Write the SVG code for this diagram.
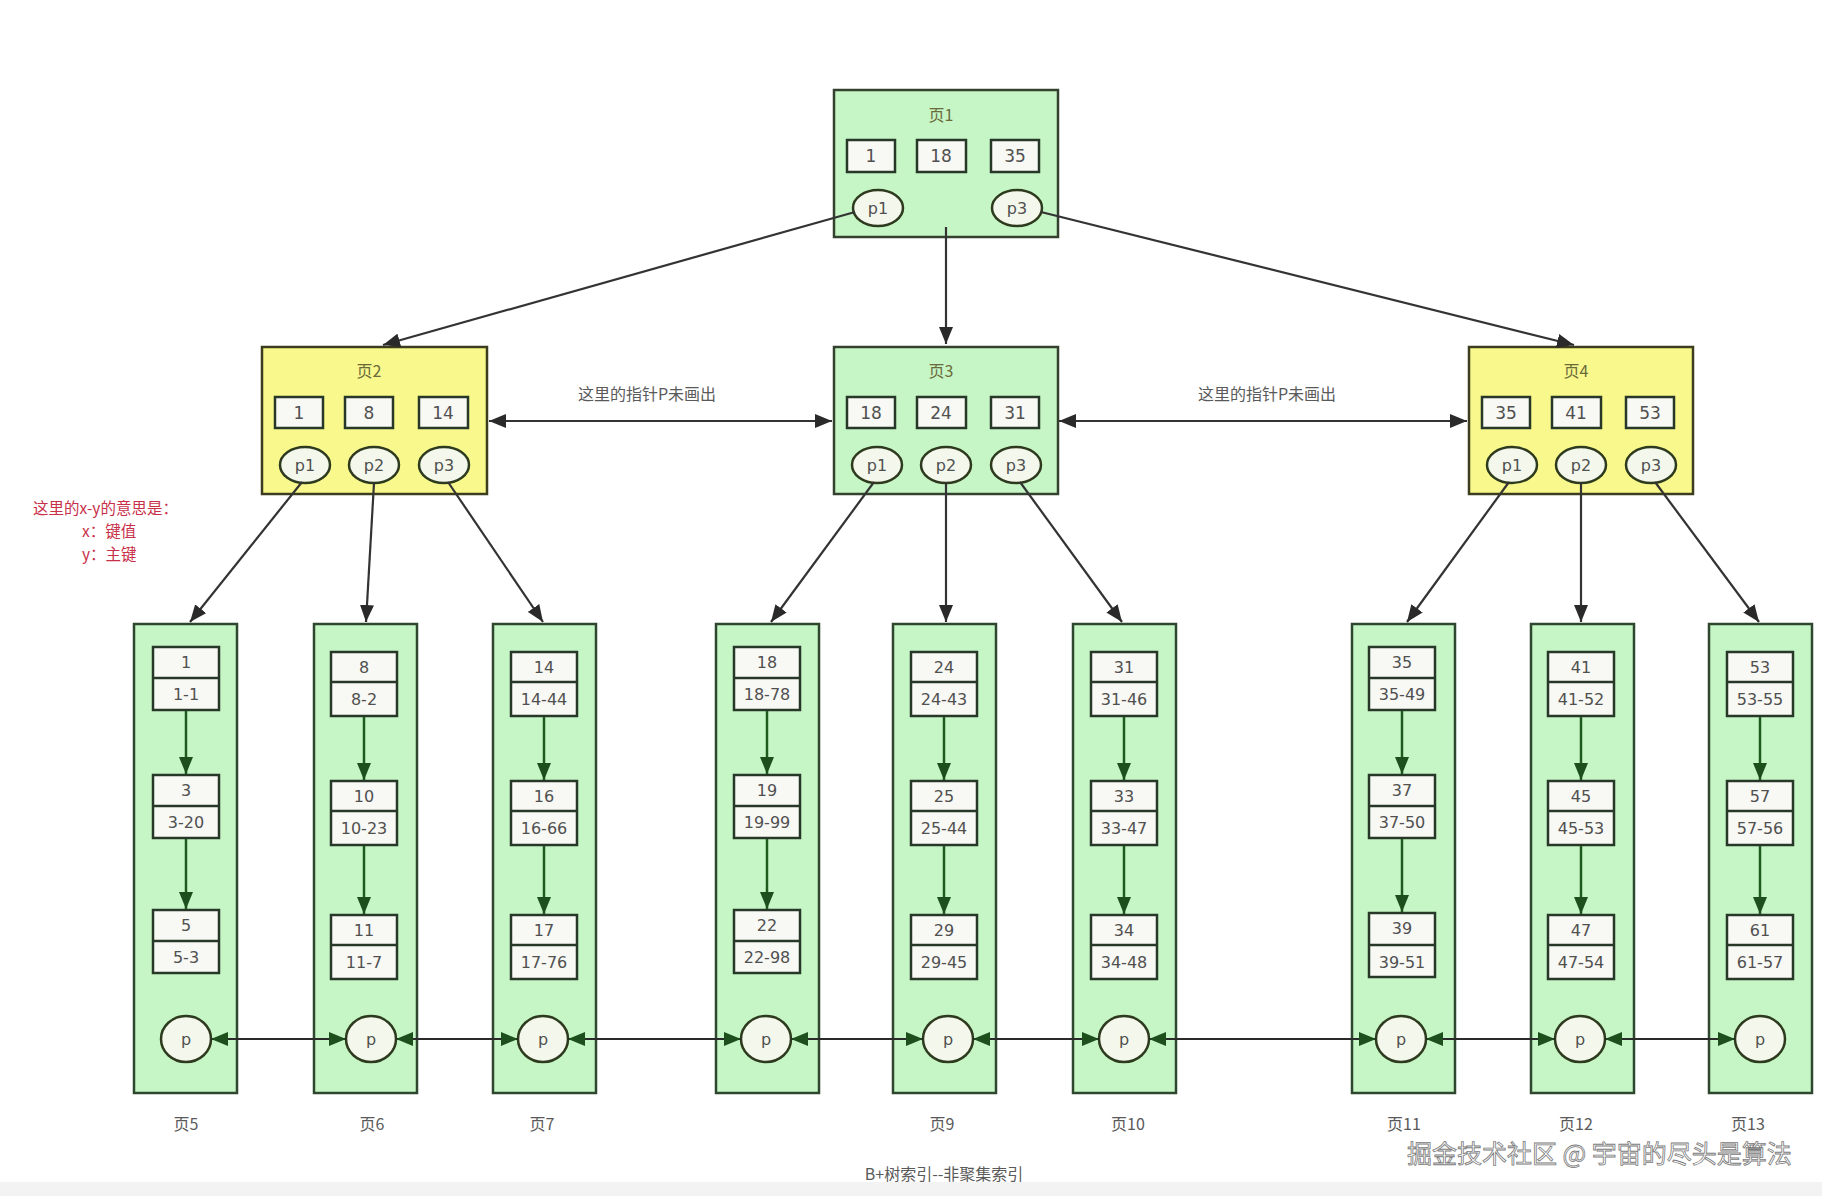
<svg xmlns="http://www.w3.org/2000/svg" width="1822" height="1196" viewBox="0 0 1822 1196">
<style>
.leaf{fill:#c6f6c6;stroke:#2f472f;stroke-width:2.5}
.gpage{fill:#c6f6c6;stroke:#34412f;stroke-width:2.5}
.ypage{fill:#f8f88c;stroke:#3c3c1e;stroke-width:2.5}
.kbox{fill:#f8f8f4;stroke:#283828;stroke-width:2.5}
.div{stroke:#283828;stroke-width:2.5}
.ell{fill:#f4f8ec;stroke:#2e3a1e;stroke-width:2.5}
.t{font-family:"DejaVu Sans","Noto Sans",sans-serif;font-size:16px;fill:#505050;text-anchor:middle;dominant-baseline:central}
.k{font-size:17px}
.cj{font-family:"Noto Sans CJK SC","DejaVu Sans",sans-serif;font-size:16px;fill:#5a5a5a;text-anchor:middle;dominant-baseline:central}
.ttl{fill:#6a6a3a}
.note{font-family:"Noto Sans CJK SC","DejaVu Sans",sans-serif;font-size:15.5px;fill:#c8304a;dominant-baseline:central}
.ga{stroke:#1f5a1f;stroke-width:2.5;fill:none;marker-end:url(#gh)}
.ha{stroke:#2a2a2a;stroke-width:2.2;fill:none;marker-start:url(#gh);marker-end:url(#gh)}
.ba{stroke:#333;stroke-width:2.2;fill:none;marker-end:url(#bh)}
.bd{stroke:#333;stroke-width:2.2;fill:none;marker-start:url(#bh);marker-end:url(#bh)}
.wm{font-family:"Noto Sans CJK SC",sans-serif;font-size:25px;fill:#ffffff;stroke:#7a7a7a;stroke-width:0.8;dominant-baseline:central}
</style>
<defs>
<marker id="gh" markerUnits="userSpaceOnUse" markerWidth="18" markerHeight="14" refX="17" refY="7" orient="auto-start-reverse"><path d="M0,0 L17,7 L0,14 z" fill="#1c4f1c"/></marker>
<marker id="bh" markerUnits="userSpaceOnUse" markerWidth="18" markerHeight="14" refX="17" refY="7" orient="auto-start-reverse"><path d="M0,0 L17,7 L0,14 z" fill="#2a2a2a"/></marker>
</defs>
<rect x="0" y="0" width="1822" height="1196" fill="#ffffff"/>
<rect x="0" y="1182" width="1822" height="14" fill="#f3f3f3"/>

<g id="page1">
<rect class="gpage" x="834" y="90" width="224" height="147"/>
<text class="cj ttl" x="941" y="114">页1</text>
<rect class="kbox" x="847" y="140" width="48" height="32"/><text class="t k" x="871" y="156">1</text>
<rect class="kbox" x="917" y="140" width="49" height="32"/><text class="t k" x="941" y="156">18</text>
<rect class="kbox" x="991" y="140" width="48" height="32"/><text class="t k" x="1015" y="156">35</text>
<ellipse class="ell" cx="878" cy="208" rx="25" ry="18"/><text class="t" x="878" y="208">p1</text>
<ellipse class="ell" cx="1017" cy="208" rx="25" ry="18"/><text class="t" x="1017" y="208">p3</text>
</g>

<g id="page2">
<rect class="ypage" x="262" y="347" width="225" height="147"/>
<text class="cj ttl" x="369" y="370">页2</text>
<rect class="kbox" x="275" y="397" width="48" height="31"/><text class="t k" x="299" y="413">1</text>
<rect class="kbox" x="345" y="397" width="48" height="31"/><text class="t k" x="369" y="413">8</text>
<rect class="kbox" x="419" y="397" width="49" height="31"/><text class="t k" x="443" y="413">14</text>
<ellipse class="ell" cx="305" cy="465" rx="25" ry="18"/><text class="t" x="305" y="465">p1</text>
<ellipse class="ell" cx="374" cy="465" rx="25" ry="18"/><text class="t" x="374" y="465">p2</text>
<ellipse class="ell" cx="444" cy="465" rx="25" ry="18"/><text class="t" x="444" y="465">p3</text>
</g>

<g id="page3">
<rect class="gpage" x="834" y="347" width="224" height="147"/>
<text class="cj ttl" x="941" y="370">页3</text>
<rect class="kbox" x="847" y="397" width="48" height="31"/><text class="t k" x="871" y="413">18</text>
<rect class="kbox" x="917" y="397" width="49" height="31"/><text class="t k" x="941" y="413">24</text>
<rect class="kbox" x="991" y="397" width="48" height="31"/><text class="t k" x="1015" y="413">31</text>
<ellipse class="ell" cx="877" cy="465" rx="25" ry="18"/><text class="t" x="877" y="465">p1</text>
<ellipse class="ell" cx="946" cy="465" rx="25" ry="18"/><text class="t" x="946" y="465">p2</text>
<ellipse class="ell" cx="1016" cy="465" rx="25" ry="18"/><text class="t" x="1016" y="465">p3</text>
</g>

<g id="page4">
<rect class="ypage" x="1469" y="347" width="224" height="147"/>
<text class="cj ttl" x="1576" y="370">页4</text>
<rect class="kbox" x="1482" y="397" width="48" height="31"/><text class="t k" x="1506" y="413">35</text>
<rect class="kbox" x="1552" y="397" width="49" height="31"/><text class="t k" x="1576" y="413">41</text>
<rect class="kbox" x="1626" y="397" width="48" height="31"/><text class="t k" x="1650" y="413">53</text>
<ellipse class="ell" cx="1512" cy="465" rx="25" ry="18"/><text class="t" x="1512" y="465">p1</text>
<ellipse class="ell" cx="1581" cy="465" rx="25" ry="18"/><text class="t" x="1581" y="465">p2</text>
<ellipse class="ell" cx="1651" cy="465" rx="25" ry="18"/><text class="t" x="1651" y="465">p3</text>
</g>

<g id="labels">
<text class="cj" x="647" y="393" font-size="18">这里的指针P未画出</text>
<text class="cj" x="1267" y="393" font-size="18">这里的指针P未画出</text>
<text class="note" x="33" y="507">这里的x-y的意思是：</text>
<text class="note" x="82" y="530">x：键值</text>
<text class="note" x="82" y="553">y：主键</text>
<text class="cj" x="944" y="1173" font-size="17.5">B+树索引--非聚集索引</text>
<text class="wm" x="1407" y="1152">掘金技术社区 @ 宇宙的尽头是算法</text>
</g>

<g id="leaf5">
<rect class="leaf" x="134" y="624" width="103" height="469"/>
<rect class="kbox" x="153" y="647" width="66" height="63"/><line class="div" x1="153" y1="678" x2="219" y2="678"/>
<text class="t" x="186" y="662">1</text><text class="t" x="186" y="694">1-1</text>
<rect class="kbox" x="153" y="775" width="66" height="63"/><line class="div" x1="153" y1="806" x2="219" y2="806"/>
<text class="t" x="186" y="790">3</text><text class="t" x="186" y="822">3-20</text>
<rect class="kbox" x="153" y="910" width="66" height="63"/><line class="div" x1="153" y1="941" x2="219" y2="941"/>
<text class="t" x="186" y="925">5</text><text class="t" x="186" y="957">5-3</text>
<line class="ga" x1="186" y1="711" x2="186" y2="774"/><line class="ga" x1="186" y1="839" x2="186" y2="909"/>
<ellipse class="ell" cx="186" cy="1039" rx="25" ry="23"/><text class="t" x="186" y="1039">p</text>
<text class="cj" x="186" y="1123">页5</text>
</g>

<g id="leaf6">
<rect class="leaf" x="314" y="624" width="103" height="469"/>
<rect class="kbox" x="331" y="652" width="66" height="64"/><line class="div" x1="331" y1="682" x2="397" y2="682"/>
<text class="t" x="364" y="667">8</text><text class="t" x="364" y="699">8-2</text>
<rect class="kbox" x="331" y="781" width="66" height="64"/><line class="div" x1="331" y1="811" x2="397" y2="811"/>
<text class="t" x="364" y="796">10</text><text class="t" x="364" y="828">10-23</text>
<rect class="kbox" x="331" y="915" width="66" height="64"/><line class="div" x1="331" y1="945" x2="397" y2="945"/>
<text class="t" x="364" y="930">11</text><text class="t" x="364" y="962">11-7</text>
<line class="ga" x1="364" y1="717" x2="364" y2="780"/><line class="ga" x1="364" y1="846" x2="364" y2="914"/>
<ellipse class="ell" cx="371" cy="1039" rx="25" ry="23"/><text class="t" x="371" y="1039">p</text>
<text class="cj" x="372" y="1123">页6</text>
</g>

<g id="leaf7">
<rect class="leaf" x="493" y="624" width="103" height="469"/>
<rect class="kbox" x="511" y="652" width="66" height="64"/><line class="div" x1="511" y1="682" x2="577" y2="682"/>
<text class="t" x="544" y="667">14</text><text class="t" x="544" y="699">14-44</text>
<rect class="kbox" x="511" y="781" width="66" height="64"/><line class="div" x1="511" y1="811" x2="577" y2="811"/>
<text class="t" x="544" y="796">16</text><text class="t" x="544" y="828">16-66</text>
<rect class="kbox" x="511" y="915" width="66" height="64"/><line class="div" x1="511" y1="945" x2="577" y2="945"/>
<text class="t" x="544" y="930">17</text><text class="t" x="544" y="962">17-76</text>
<line class="ga" x1="544" y1="717" x2="544" y2="780"/><line class="ga" x1="544" y1="846" x2="544" y2="914"/>
<ellipse class="ell" cx="543" cy="1039" rx="25" ry="23"/><text class="t" x="543" y="1039">p</text>
<text class="cj" x="542" y="1123">页7</text>
</g>

<g id="leaf8">
<rect class="leaf" x="716" y="624" width="103" height="469"/>
<rect class="kbox" x="734" y="647" width="66" height="63"/><line class="div" x1="734" y1="678" x2="800" y2="678"/>
<text class="t" x="767" y="662">18</text><text class="t" x="767" y="694">18-78</text>
<rect class="kbox" x="734" y="775" width="66" height="63"/><line class="div" x1="734" y1="806" x2="800" y2="806"/>
<text class="t" x="767" y="790">19</text><text class="t" x="767" y="822">19-99</text>
<rect class="kbox" x="734" y="910" width="66" height="63"/><line class="div" x1="734" y1="941" x2="800" y2="941"/>
<text class="t" x="767" y="925">22</text><text class="t" x="767" y="957">22-98</text>
<line class="ga" x1="767" y1="711" x2="767" y2="774"/><line class="ga" x1="767" y1="839" x2="767" y2="909"/>
<ellipse class="ell" cx="766" cy="1039" rx="25" ry="23"/><text class="t" x="766" y="1039">p</text>
</g>

<g id="leaf9">
<rect class="leaf" x="893" y="624" width="103" height="469"/>
<rect class="kbox" x="911" y="652" width="66" height="64"/><line class="div" x1="911" y1="682" x2="977" y2="682"/>
<text class="t" x="944" y="667">24</text><text class="t" x="944" y="699">24-43</text>
<rect class="kbox" x="911" y="781" width="66" height="64"/><line class="div" x1="911" y1="811" x2="977" y2="811"/>
<text class="t" x="944" y="796">25</text><text class="t" x="944" y="828">25-44</text>
<rect class="kbox" x="911" y="915" width="66" height="64"/><line class="div" x1="911" y1="945" x2="977" y2="945"/>
<text class="t" x="944" y="930">29</text><text class="t" x="944" y="962">29-45</text>
<line class="ga" x1="944" y1="717" x2="944" y2="780"/><line class="ga" x1="944" y1="846" x2="944" y2="914"/>
<ellipse class="ell" cx="948" cy="1039" rx="25" ry="23"/><text class="t" x="948" y="1039">p</text>
<text class="cj" x="942" y="1123">页9</text>
</g>

<g id="leaf10">
<rect class="leaf" x="1073" y="624" width="103" height="469"/>
<rect class="kbox" x="1091" y="652" width="66" height="64"/><line class="div" x1="1091" y1="682" x2="1157" y2="682"/>
<text class="t" x="1124" y="667">31</text><text class="t" x="1124" y="699">31-46</text>
<rect class="kbox" x="1091" y="781" width="66" height="64"/><line class="div" x1="1091" y1="811" x2="1157" y2="811"/>
<text class="t" x="1124" y="796">33</text><text class="t" x="1124" y="828">33-47</text>
<rect class="kbox" x="1091" y="915" width="66" height="64"/><line class="div" x1="1091" y1="945" x2="1157" y2="945"/>
<text class="t" x="1124" y="930">34</text><text class="t" x="1124" y="962">34-48</text>
<line class="ga" x1="1124" y1="717" x2="1124" y2="780"/><line class="ga" x1="1124" y1="846" x2="1124" y2="914"/>
<ellipse class="ell" cx="1124" cy="1039" rx="25" ry="23"/><text class="t" x="1124" y="1039">p</text>
<text class="cj" x="1128" y="1123">页10</text>
</g>

<g id="leaf11">
<rect class="leaf" x="1352" y="624" width="103" height="469"/>
<rect class="kbox" x="1369" y="647" width="66" height="63"/><line class="div" x1="1369" y1="678" x2="1435" y2="678"/>
<text class="t" x="1402" y="662">35</text><text class="t" x="1402" y="694">35-49</text>
<rect class="kbox" x="1369" y="775" width="66" height="63"/><line class="div" x1="1369" y1="806" x2="1435" y2="806"/>
<text class="t" x="1402" y="790">37</text><text class="t" x="1402" y="822">37-50</text>
<rect class="kbox" x="1369" y="913" width="66" height="64"/><line class="div" x1="1369" y1="945" x2="1435" y2="945"/>
<text class="t" x="1402" y="928">39</text><text class="t" x="1402" y="962">39-51</text>
<line class="ga" x1="1402" y1="711" x2="1402" y2="774"/><line class="ga" x1="1402" y1="839" x2="1402" y2="912"/>
<ellipse class="ell" cx="1401" cy="1039" rx="25" ry="23"/><text class="t" x="1401" y="1039">p</text>
<text class="cj" x="1404" y="1123">页11</text>
</g>

<g id="leaf12">
<rect class="leaf" x="1531" y="624" width="103" height="469"/>
<rect class="kbox" x="1548" y="652" width="66" height="64"/><line class="div" x1="1548" y1="682" x2="1614" y2="682"/>
<text class="t" x="1581" y="667">41</text><text class="t" x="1581" y="699">41-52</text>
<rect class="kbox" x="1548" y="781" width="66" height="64"/><line class="div" x1="1548" y1="811" x2="1614" y2="811"/>
<text class="t" x="1581" y="796">45</text><text class="t" x="1581" y="828">45-53</text>
<rect class="kbox" x="1548" y="915" width="66" height="64"/><line class="div" x1="1548" y1="945" x2="1614" y2="945"/>
<text class="t" x="1581" y="930">47</text><text class="t" x="1581" y="962">47-54</text>
<line class="ga" x1="1581" y1="717" x2="1581" y2="780"/><line class="ga" x1="1581" y1="846" x2="1581" y2="914"/>
<ellipse class="ell" cx="1580" cy="1039" rx="25" ry="23"/><text class="t" x="1580" y="1039">p</text>
<text class="cj" x="1576" y="1123">页12</text>
</g>

<g id="leaf13">
<rect class="leaf" x="1709" y="624" width="103" height="469"/>
<rect class="kbox" x="1727" y="652" width="66" height="64"/><line class="div" x1="1727" y1="682" x2="1793" y2="682"/>
<text class="t" x="1760" y="667">53</text><text class="t" x="1760" y="699">53-55</text>
<rect class="kbox" x="1727" y="781" width="66" height="64"/><line class="div" x1="1727" y1="811" x2="1793" y2="811"/>
<text class="t" x="1760" y="796">57</text><text class="t" x="1760" y="828">57-56</text>
<rect class="kbox" x="1727" y="915" width="66" height="64"/><line class="div" x1="1727" y1="945" x2="1793" y2="945"/>
<text class="t" x="1760" y="930">61</text><text class="t" x="1760" y="962">61-57</text>
<line class="ga" x1="1760" y1="717" x2="1760" y2="780"/><line class="ga" x1="1760" y1="846" x2="1760" y2="914"/>
<ellipse class="ell" cx="1760" cy="1039" rx="25" ry="23"/><text class="t" x="1760" y="1039">p</text>
<text class="cj" x="1748" y="1123">页13</text>
</g>

<g id="connectors">
<line class="ba" x1="855" y1="212" x2="383" y2="345"/>
<line class="ba" x1="946" y1="227" x2="946" y2="344"/>
<line class="ba" x1="1041" y1="212" x2="1574" y2="345"/>
<line class="bd" x1="489" y1="421" x2="832" y2="421"/>
<line class="bd" x1="1059" y1="421" x2="1467" y2="421"/>
<line class="ba" x1="302" y1="482" x2="190" y2="622"/>
<line class="ba" x1="374" y1="483" x2="366" y2="622"/>
<line class="ba" x1="448" y1="482" x2="543" y2="622"/>
<line class="ba" x1="874" y1="482" x2="771" y2="622"/>
<line class="ba" x1="946" y1="483" x2="946" y2="622"/>
<line class="ba" x1="1020" y1="482" x2="1122" y2="622"/>
<line class="ba" x1="1509" y1="482" x2="1407" y2="622"/>
<line class="ba" x1="1581" y1="483" x2="1581" y2="622"/>
<line class="ba" x1="1655" y1="482" x2="1759" y2="622"/>
<line class="ha" x1="211" y1="1039" x2="346" y2="1039"/>
<line class="ha" x1="396" y1="1039" x2="518" y2="1039"/>
<line class="ha" x1="568" y1="1039" x2="741" y2="1039"/>
<line class="ha" x1="791" y1="1039" x2="923" y2="1039"/>
<line class="ha" x1="973" y1="1039" x2="1099" y2="1039"/>
<line class="ha" x1="1149" y1="1039" x2="1376" y2="1039"/>
<line class="ha" x1="1426" y1="1039" x2="1555" y2="1039"/>
<line class="ha" x1="1605" y1="1039" x2="1735" y2="1039"/>
</g>
</svg>
